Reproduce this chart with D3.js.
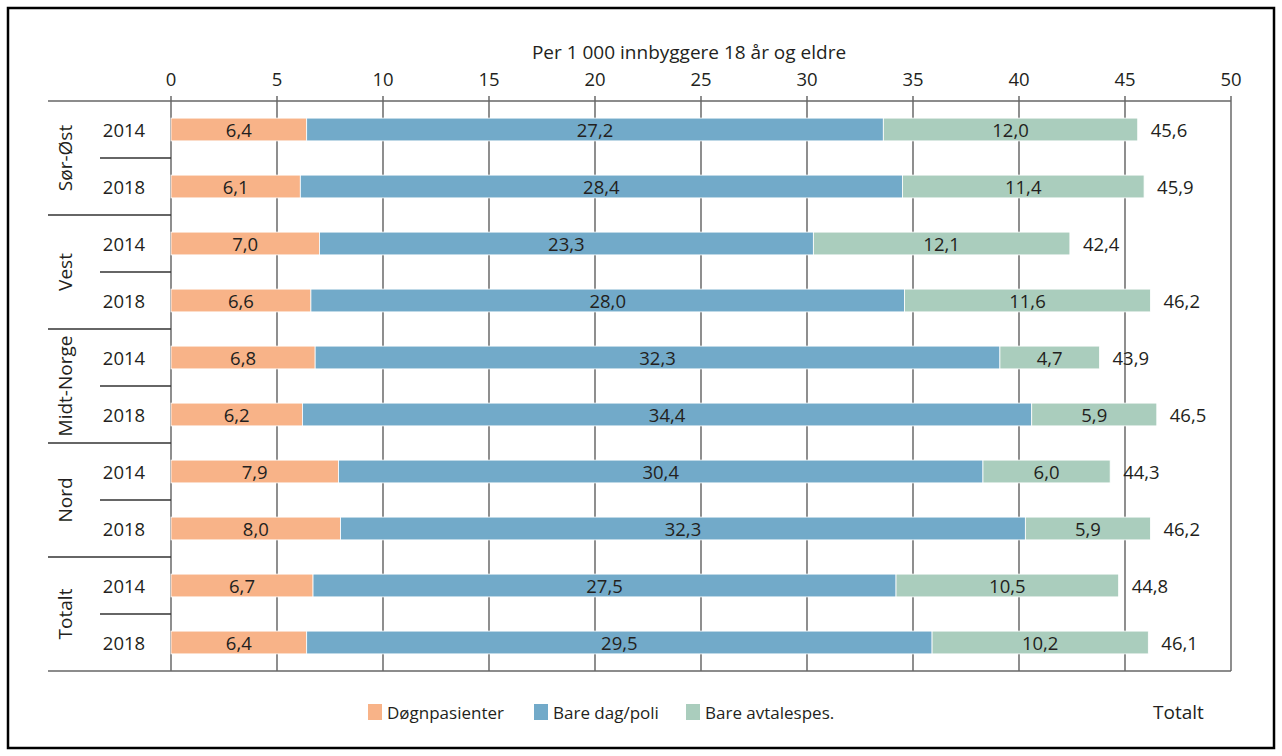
<!DOCTYPE html>
<html><head><meta charset="utf-8">
<script src="https://cdn.jsdelivr.net/npm/d3@7"></script>
<style>
body{margin:0;background:#fff;}
svg text{font-family:"Open Sans",sans-serif;fill:#231f20;}
</style></head>
<body><svg id="c" width="1282" height="756"></svg>
<script>
const regions = ["Sør-Øst","Vest","Midt-Norge","Nord","Totalt"];
const years = ["2014","2018"];
const seriesNames = ["Døgnpasienter","Bare dag/poli","Bare avtalespes."];
const dogn   = [6.4,6.1, 7.0,6.6, 6.8,6.2, 7.9,8.0, 6.7,6.4];
const dagpoli= [27.2,28.4, 23.3,28.0, 32.3,34.4, 30.4,32.3, 27.5,29.5];
const avtale = [12.0,11.4, 12.1,11.6, 4.7,5.9, 6.0,5.9, 10.5,10.2];
const totals = [45.6,45.9, 42.4,46.2, 43.9,46.5, 44.3,46.2, 44.8,46.1];
const xTicks = [0,5,10,15,20,25,30,35,40,45,50];
const axisTitle = "Per 1 000 innbyggere 18 år og eldre";
const totalLabel = "Totalt";
const colors = ["#f8b388","#72aac9","#aacdbd"];

const FS = "18.5px";
const fmt = v => v.toFixed(1).replace(".", ",");
const svg = d3.select("#c");
const rows = [];
regions.forEach((r,gi)=>years.forEach((yr,yi)=>{
  const i = gi*2+yi;
  rows.push({key:r+"|"+yr, region:r, year:yr, vals:[dogn[i],dagpoli[i],avtale[i]], total:totals[i]});
}));

const x = d3.scaleLinear().domain([0,50]).range([171,1231]);
const y = d3.scaleBand().domain(rows.map(d=>d.key)).range([101,671]).paddingInner(0.6).paddingOuter(0.3);
const step = y.step();

// frame
svg.append("rect").attr("x",8).attr("y",8).attr("width",1266).attr("height",740)
  .attr("fill","none").attr("stroke","#000").attr("stroke-width",2.5);

// gridlines
svg.append("g").selectAll("line").data(xTicks).join("line")
  .attr("x1",d=>x(d)).attr("x2",d=>x(d)).attr("y1",96).attr("y2",671)
  .attr("stroke","#444").attr("stroke-width",1.2);

// tick labels
svg.append("g").selectAll("text").data(xTicks).join("text")
  .attr("x",d=>x(d)).attr("y",86).attr("text-anchor","middle")
  .style("font-size",FS).text(d=>d);
svg.append("text").attr("x",689).attr("y",59).attr("text-anchor","middle")
  .style("font-size","19px").text(axisTitle);

// horizontal separators
const yTopEdge = y.range()[0], yBotEdge = y.range()[1];
svg.append("line").attr("x1",48).attr("x2",1231).attr("y1",yTopEdge).attr("y2",yTopEdge).attr("stroke","#666").attr("stroke-width",1.5);
svg.append("line").attr("x1",48).attr("x2",1231).attr("y1",yBotEdge).attr("y2",yBotEdge).attr("stroke","#666").attr("stroke-width",1.5);
regions.forEach((r,gi)=>{
  const yTop = yTopEdge + step*2*gi;
  if(gi>0) svg.append("line").attr("x1",48).attr("x2",171).attr("y1",yTop).attr("y2",yTop).attr("stroke","#333").attr("stroke-width",1.3);
  const ySep = yTop + step;
  svg.append("line").attr("x1",100).attr("x2",171).attr("y1",ySep).attr("y2",ySep).attr("stroke","#333").attr("stroke-width",1.3);
  svg.append("text").attr("transform",`translate(65,${yTop+step})rotate(-90)`)
    .attr("text-anchor","middle").attr("dominant-baseline","central")
    .style("font-size","19px").text(r);
});

// year labels
svg.append("g").selectAll("text").data(rows).join("text")
  .attr("x",124).attr("y",d=>y(d.key)+y.bandwidth()/2).attr("text-anchor","middle")
  .attr("dominant-baseline","central").style("font-size",FS).text(d=>d.year);

// bars
const stacked = rows.map(d=>{
  let acc=0;
  return d.vals.map((v,si)=>{const s={key:d.key,si,v,x0:acc,x1:acc+v}; acc+=v; return s;});
}).flat();
svg.append("g").selectAll("rect").data(stacked).join("rect")
  .attr("x",d=>x(d.x0)).attr("width",d=>x(d.x1)-x(d.x0))
  .attr("y",d=>y(d.key)).attr("height",y.bandwidth())
  .attr("fill",d=>colors[d.si]).attr("stroke","#fff").attr("stroke-width",0.8);
svg.append("g").selectAll("text").data(stacked).join("text")
  .attr("x",d=>x((d.x0+d.x1)/2)).attr("y",d=>y(d.key)+y.bandwidth()/2)
  .attr("text-anchor","middle").attr("dominant-baseline","central")
  .style("font-size",FS).text(d=>fmt(d.v));

// totals
svg.append("g").selectAll("text").data(rows).join("text")
  .attr("x",d=>x(d3.sum(d.vals))+13).attr("y",d=>y(d.key)+y.bandwidth()/2)
  .attr("dominant-baseline","central").style("font-size",FS).text(d=>fmt(d.total));

// legend
const legX = [368,534,686];
seriesNames.forEach((n,i)=>{
  svg.append("rect").attr("x",legX[i]).attr("y",704).attr("width",14).attr("height",16).attr("fill",colors[i]);
  svg.append("text").attr("x",legX[i]+19).attr("y",712).attr("dominant-baseline","central")
    .style("font-size","17px").text(n);
});
svg.append("text").attr("x",1153).attr("y",712).attr("dominant-baseline","central")
  .style("font-size","19px").text(totalLabel);
</script></body></html>
